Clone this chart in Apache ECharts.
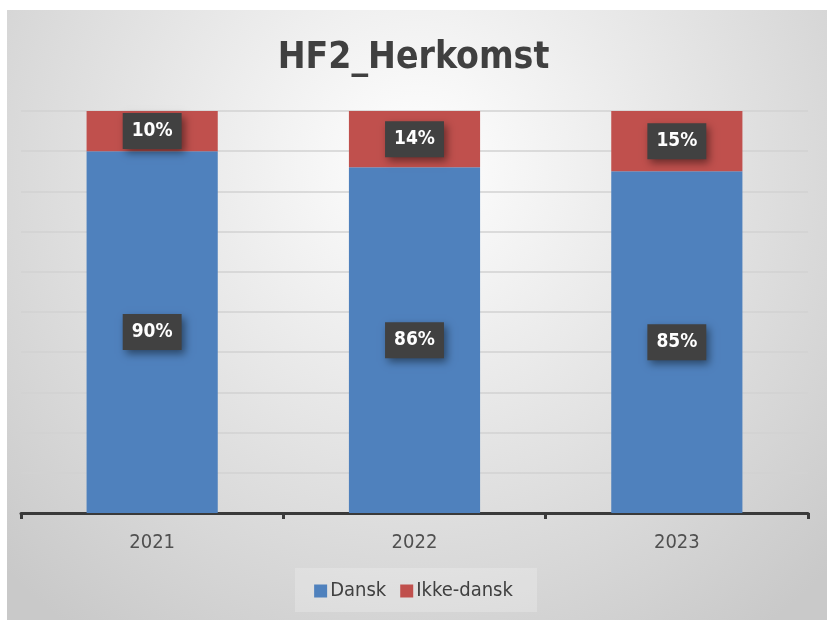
<!DOCTYPE html>
<html>
<head>
<meta charset="utf-8">
<script src="https://cdn.jsdelivr.net/npm/echarts@6/dist/echarts.min.js"></script>
<style>
html,body{margin:0;padding:0;background:#fff;}
#c{width:827px;height:620px;}
</style>
</head>
<body>
<div id="c"></div>
<script>
const categories = ['2021', '2022', '2023'];
const dansk = [90, 86, 85];
const ikkeDansk = [10, 14, 15];
const seriesNames = ['Dansk', 'Ikke-dansk'];

const FONT = '"Liberation Sans Narrow", "DejaVu Sans Condensed", "Open Sans", sans-serif';

const chart = echarts.init(document.getElementById('c'));

const labelStyle = {
  show: true,
  position: 'inside',
  formatter: '{c}%',
  color: '#ffffff',
  fontFamily: FONT,
  fontWeight: 'bold',
  fontSize: 19,
  backgroundColor: '#414141',
  padding: [9, 9, 8, 9],
  shadowColor: 'rgba(0,0,0,0.45)',
  shadowBlur: 8,
  shadowOffsetX: 3,
  shadowOffsetY: 4
};

chart.setOption({
  animation: false,
  graphic: {
    elements: [{
      type: 'rect',
      z: -10,
      silent: true,
      shape: { x: 7, y: 10, width: 820, height: 610 },
      style: {
        fill: new echarts.graphic.RadialGradient(0.5, 0.25, 0.95, [
          { offset: 0, color: '#ffffff' },
          { offset: 1, color: '#c9c9c9' }
        ])
      }
    }, {
      type: 'rect',
      z: -5,
      silent: true,
      shape: { x: 295, y: 568, width: 242, height: 44 },
      style: { fill: 'rgba(255,255,255,0.22)' }
    }]
  },
  title: {
    text: 'HF2_Herkomst',
    left: 'center',
    top: 35,
    textStyle: {
      fontFamily: FONT,
      fontWeight: 'bold',
      fontSize: 37,
      color: '#404040'
    }
  },
  legend: {
    data: seriesNames,
    bottom: 14,
    left: 'center',
    itemWidth: 13,
    itemHeight: 13,
    itemGap: 14,
    icon: 'rect',
    textStyle: {
      fontFamily: FONT,
      fontSize: 20,
      color: '#404040',
      padding: [0, 0, 0, -2]
    }
  },
  grid: {
    left: 21,
    right: 19,
    top: 111,
    bottom: 107,
    containLabel: false
  },
  xAxis: {
    type: 'category',
    data: categories,
    axisLine: { lineStyle: { color: '#3a3a3a', width: 3 } },
    axisTick: { show: true, length: 6, lineStyle: { color: '#3a3a3a', width: 3 } },
    axisLabel: {
      fontFamily: FONT,
      fontSize: 20,
      color: '#505050',
      margin: 20
    }
  },
  yAxis: {
    type: 'value',
    min: 0,
    max: 100,
    interval: 10,
    axisLine: { show: false },
    axisTick: { show: false },
    axisLabel: { show: false },
    splitLine: { lineStyle: { color: '#d2d2d2', width: 1.5 } }
  },
  series: [{
    name: seriesNames[0],
    type: 'bar',
    stack: 'total',
    barWidth: '50%',
    data: dansk,
    itemStyle: { color: '#4f81bd' },
    label: labelStyle
  }, {
    name: seriesNames[1],
    type: 'bar',
    stack: 'total',
    barWidth: '50%',
    data: ikkeDansk,
    itemStyle: { color: '#c0504d' },
    label: labelStyle
  }]
});
</script>
</body>
</html>
